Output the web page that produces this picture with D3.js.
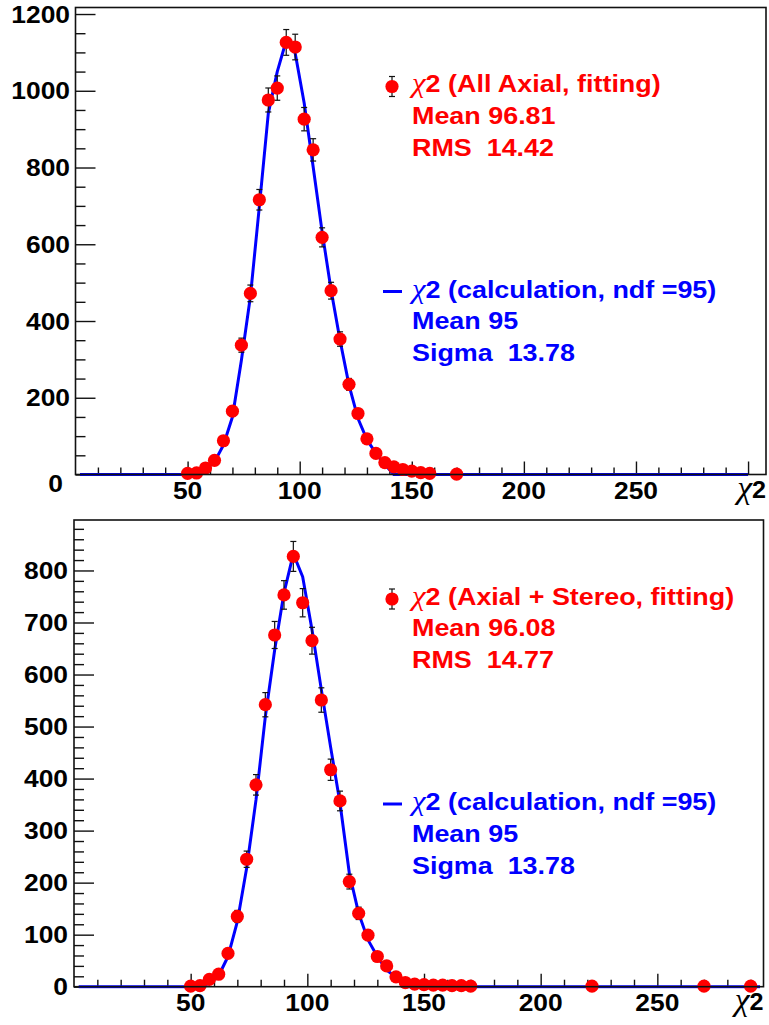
<!DOCTYPE html>
<html>
<head>
<meta charset="utf-8">
<script src="https://cdn.jsdelivr.net/npm/d3@7"></script>
<style>
  body { margin: 0; background: #fff; }
  svg { display: block; }
  text { white-space: pre; }
</style>
</head>
<body>
<svg id="chart" width="769" height="1025"></svg>
<script>
// ---- upper pad: all-axial fit ----
const topBinCenters = [50, 54, 58, 62, 66, 70, 74, 78, 82, 86, 90, 94, 98, 102, 106, 110, 114, 118, 122, 126, 130, 134, 138, 142, 146, 150, 154, 158, 170];
const topCounts     = [3, 4, 17, 37, 88, 165, 337, 472, 716, 976, 1007, 1126, 1114, 926, 846, 618, 479, 353, 235, 159, 93, 55, 31, 20, 13, 9, 5, 3, 1];
const topCurveX = [2, 46, 50, 54, 58, 62, 66, 70, 74, 78, 82, 86, 90, 94, 98, 102, 106, 110, 114, 118, 122, 126, 130, 134, 138, 142, 146, 300];
const topCurveY = [0, 0, 0, 1, 13, 33, 77, 150, 298, 463, 698, 941, 1050, 1131, 1098, 968, 802, 633, 481, 350, 233, 146, 91, 55, 26, 0, 0, 0];
const topYMajor = [0, 200, 400, 600, 800, 1000, 1200];
const topYMinor = [50, 100, 150, 250, 300, 350, 450, 500, 550, 650, 700, 750, 850, 900, 950, 1050, 1100, 1150];
const topXMajor = [50, 100, 150, 200, 250, 300];
const topXMinor = [10, 20, 30, 40, 60, 70, 80, 90, 110, 120, 130, 140, 160, 170, 180, 190, 210, 220, 230, 240, 260, 270, 280, 290];
const topXLabels = [50, 100, 150, 200, 250];
const topLegendFit = ["(All Axial, fitting)", "Mean 96.81", "RMS  14.42"];
const topLegendCalc = ["(calculation, ndf =95)", "Mean 95", "Sigma  13.78"];

// ---- lower pad: axial + stereo fit ----
const botBinCenters = [50, 54, 58, 62, 66, 70, 74, 78, 82, 86, 90, 94, 98, 102, 106, 110, 114, 118, 122, 126, 130, 134, 138, 142, 146, 150, 154, 158, 162, 166, 170, 222, 270, 290];
const botCounts     = [1, 2, 14, 24, 64, 135, 245, 388, 542, 676, 753, 827, 738, 665, 551, 417, 357, 202, 141, 99, 58, 40, 19, 8, 5, 4, 3, 3, 2, 2, 1, 1, 1, 1];
const botCurveX = [2, 46, 50, 54, 58, 62, 66, 70, 74, 78, 82, 86, 90, 94, 98, 102, 106, 110, 114, 118, 122, 126, 130, 134, 138, 142, 294];
const botCurveY = [0, 0, 0, 1, 6, 21, 58, 125, 228, 359, 519, 647, 757, 832, 788, 686, 571, 460, 353, 218, 141, 90, 58, 32, 18, 0, 0];
const botYMajor = [0, 100, 200, 300, 400, 500, 600, 700, 800];
const botYMinor = [20, 40, 60, 80, 120, 140, 160, 180, 220, 240, 260, 280, 320, 340, 360, 380, 420, 440, 460, 480, 520, 540, 560, 580, 620, 640, 660, 680, 720, 740, 760, 780, 820, 840, 860, 880];
const botXMajor = [50, 100, 150, 200, 250];
const botXMinor = [10, 20, 30, 40, 60, 70, 80, 90, 110, 120, 130, 140, 160, 170, 180, 190, 210, 220, 230, 240, 260, 270, 280, 290];
const botXLabels = [50, 100, 150, 200, 250];
const botLegendFit = ["(Axial + Stereo, fitting)", "Mean 96.08", "RMS  14.77"];
const botLegendCalc = ["(calculation, ndf =95)", "Mean 95", "Sigma  13.78"];

const RED = "#ff0000", BLUE = "#0000ff";
const SANS = "'Liberation Sans', Arial, Helvetica, sans-serif";
const SERIF = "'Liberation Serif', 'Times New Roman', serif";

const svg = d3.select("#chart");

// text drawn with a slight horizontal stretch, like the bold Helvetica of the canvas
function stretchedText(g, x, y, str, opts) {
  const t = g.append("text")
    .attr("transform", `translate(${x},${y}) scale(${opts.sx || 1},1)`)
    .attr("font-family", SANS)
    .attr("font-weight", "bold")
    .attr("font-size", opts.size)
    .attr("fill", opts.fill || "#000")
    .attr("text-anchor", opts.anchor || "start");
  return t;
}

function chiLabel(g, x, y, rest, fill, size, sx) {
  const t = stretchedText(g, x, y, "", { size, fill, sx });
  t.append("tspan").attr("font-family", SERIF).attr("font-weight", "normal")
    .attr("font-style", "italic").attr("font-size", size * 1.15).text("χ");
  t.append("tspan").text("2 " + rest);
}

function drawPanel(cfg) {
  const g = svg.append("g");
  const x = d3.scaleLinear().domain([0, cfg.xMax]).range([cfg.left, cfg.right]);
  const y = d3.scaleLinear().domain([0, cfg.yMax]).range([cfg.bottom, cfg.top]);

  const clipId = "clip" + cfg.id;
  svg.append("clipPath").attr("id", clipId).append("rect")
    .attr("x", cfg.left).attr("y", cfg.top)
    .attr("width", cfg.right - cfg.left).attr("height", cfg.bottom - cfg.top + 2);

  // y axis ticks pointing into the frame
  const yMaj = g.append("g").attr("transform", `translate(${cfg.left},0)`)
    .call(d3.axisRight(y).tickValues(cfg.yMajor).tickSize(20).tickFormat(""));
  const yMin = g.append("g").attr("transform", `translate(${cfg.left},0)`)
    .call(d3.axisRight(y).tickValues(cfg.yMinor).tickSize(10).tickFormat(""));
  // x axis ticks pointing up from the bottom edge
  const xMaj = g.append("g").attr("transform", `translate(0,${cfg.bottom})`)
    .call(d3.axisTop(x).tickValues(cfg.xMajor).tickSize(13).tickFormat(""));
  const xMin = g.append("g").attr("transform", `translate(0,${cfg.bottom})`)
    .call(d3.axisTop(x).tickValues(cfg.xMinor).tickSize(7).tickFormat(""));
  [yMaj, yMin, xMaj, xMin].forEach(a => {
    a.select(".domain").remove();
    a.selectAll(".tick line").attr("stroke", "#111").attr("stroke-width", 1.4);
  });

  // y labels
  cfg.yMajor.forEach(v => {
    let lx = cfg.yLabelX, ly = y(v) + 8.5;
    if (v === 0 && cfg.zeroShift) { lx += cfg.zeroShift[0]; ly += cfg.zeroShift[1]; }
    stretchedText(g, lx, ly, "", { size: 24, sx: 1.1, anchor: "end" }).text(v);
  });
  // x labels
  cfg.xLabels.forEach(v => {
    stretchedText(g, x(v), cfg.bottom + 24.5, "", { size: 24, sx: 1.1, anchor: "middle" }).text(v);
  });
  // axis title
  const title = stretchedText(g, cfg.right, cfg.bottom + 23.5, "", { size: 24, sx: 1.05, anchor: "end" });
  title.append("tspan").attr("font-family", SERIF).attr("font-weight", "normal")
    .attr("font-style", "italic").attr("font-size", 32).text("χ");
  title.append("tspan").text("2");

  // expected chi-square distribution
  const line = d3.line().x(d => x(d[0])).y(d => y(d[1]));
  g.append("path")
    .datum(cfg.curveX.map((v, i) => [v, cfg.curveY[i]]))
    .attr("clip-path", `url(#${clipId})`)
    .attr("d", line)
    .attr("fill", "none")
    .attr("stroke", BLUE)
    .attr("stroke-width", 3)
    .attr("stroke-linejoin", "round");

  // measured histogram with Poisson errors
  const pts = cfg.bins.map((v, i) => ({ x: v, n: cfg.counts[i] }));
  const err = g.append("g").attr("stroke", "#111").attr("stroke-width", 1.2);
  pts.forEach(p => {
    const e = Math.sqrt(p.n);
    const px = x(p.x), y1 = y(p.n + e), y2 = y(p.n - e);
    err.append("line").attr("x1", px).attr("x2", px).attr("y1", y1).attr("y2", y2);
    err.append("line").attr("x1", px - 3).attr("x2", px + 3).attr("y1", y1).attr("y2", y1);
    err.append("line").attr("x1", px - 3).attr("x2", px + 3).attr("y1", y2).attr("y2", y2);
  });
  g.append("g").selectAll("circle").data(pts).join("circle")
    .attr("cx", d => x(d.x)).attr("cy", d => y(d.n)).attr("r", 6.6)
    .attr("fill", RED);

  // frame
  g.append("rect")
    .attr("x", cfg.left).attr("y", cfg.top)
    .attr("width", cfg.right - cfg.left).attr("height", cfg.bottom - cfg.top)
    .attr("fill", "none").attr("stroke", "#111").attr("stroke-width", 1.6);

  // legend
  const lg = g.append("g");
  const lx = 412, base = cfg.top;
  const fitY = [base + 84.5, base + 116, base + 148];
  const calcY = [base + 290, base + 321.5, base + 353.5];
  // marker symbol
  const mx = 392, my = fitY[0] - 5.5;
  lg.append("line").attr("x1", mx).attr("x2", mx).attr("y1", my - 10).attr("y2", my + 10).attr("stroke", "#111").attr("stroke-width", 1.2);
  lg.append("line").attr("x1", mx - 3).attr("x2", mx + 3).attr("y1", my - 10).attr("y2", my - 10).attr("stroke", "#111").attr("stroke-width", 1.2);
  lg.append("line").attr("x1", mx - 3).attr("x2", mx + 3).attr("y1", my + 10).attr("y2", my + 10).attr("stroke", "#111").attr("stroke-width", 1.2);
  lg.append("circle").attr("cx", mx).attr("cy", my).attr("r", 6.6).attr("fill", RED);
  chiLabel(lg, lx, fitY[0], cfg.legendFit[0], RED, 23, 1.17);
  stretchedText(lg, lx, fitY[1], "", { size: 23, sx: 1.17, fill: RED }).text(cfg.legendFit[1]);
  stretchedText(lg, lx, fitY[2], "", { size: 23, sx: 1.17, fill: RED }).text(cfg.legendFit[2]);
  // line symbol
  lg.append("line").attr("x1", 383).attr("x2", 402).attr("y1", calcY[0] - 6).attr("y2", calcY[0] - 6)
    .attr("stroke", BLUE).attr("stroke-width", 3);
  chiLabel(lg, lx, calcY[0], cfg.legendCalc[0], BLUE, 23, 1.17);
  stretchedText(lg, lx, calcY[1], "", { size: 23, sx: 1.17, fill: BLUE }).text(cfg.legendCalc[1]);
  stretchedText(lg, lx, calcY[2], "", { size: 23, sx: 1.17, fill: BLUE }).text(cfg.legendCalc[2]);
}

drawPanel({
  id: "top", left: 75.5, right: 766, top: 7.5, bottom: 474.5,
  xMax: 308, yMax: 1217, yLabelX: 70, zeroShift: [-7, 9],
  yMajor: topYMajor, yMinor: topYMinor, xMajor: topXMajor, xMinor: topXMinor, xLabels: topXLabels,
  bins: topBinCenters, counts: topCounts, curveX: topCurveX, curveY: topCurveY,
  legendFit: topLegendFit, legendCalc: topLegendCalc
});

drawPanel({
  id: "bot", left: 74, right: 763.5, top: 520, bottom: 986.7,
  xMax: 295.5, yMax: 897, yLabelX: 68,
  yMajor: botYMajor, yMinor: botYMinor, xMajor: botXMajor, xMinor: botXMinor, xLabels: botXLabels,
  bins: botBinCenters, counts: botCounts, curveX: botCurveX, curveY: botCurveY,
  legendFit: botLegendFit, legendCalc: botLegendCalc
});
</script>
</body>
</html>
